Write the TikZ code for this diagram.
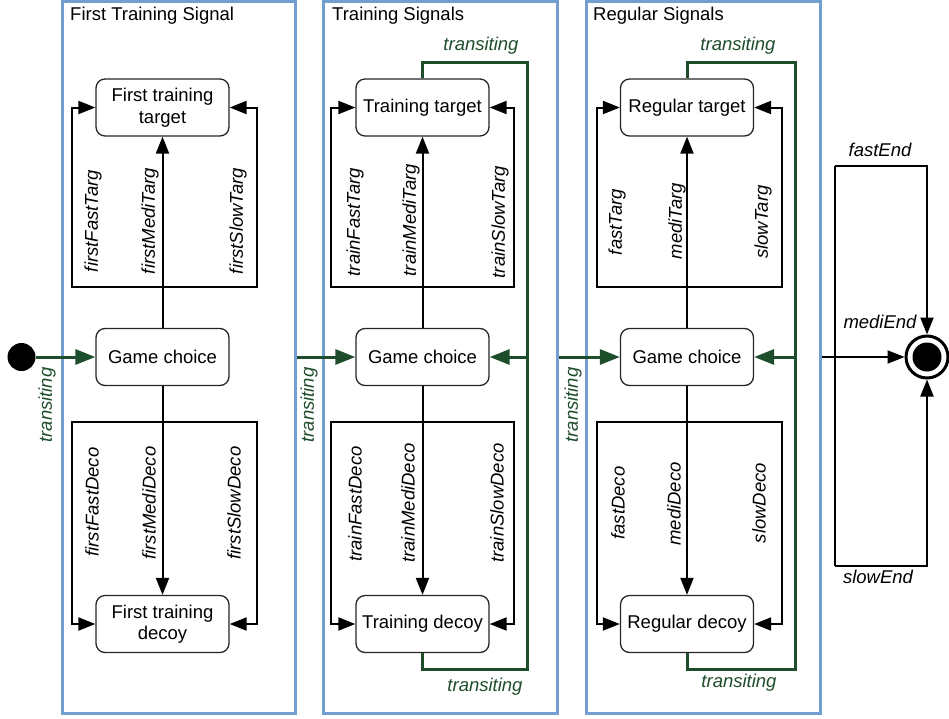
\documentclass[tikz,border=0pt]{standalone}
\usepackage{fontspec}
\setmainfont{Liberation Sans}
\usetikzlibrary{arrows.meta}
\definecolor{cblue}{HTML}{729FCF}
\definecolor{cgreen}{HTML}{1E4D2B}
\begin{document}
\begin{tikzpicture}[x=1pt,y=-1pt,
  state/.style={draw=black!85, line width=1.3pt, rounded corners=9pt, minimum width=133pt, minimum height=57pt, align=center, inner sep=2pt, fill=white, font=\fontsize{18.5}{21.5}\selectfont},
  cont/.style={draw=cblue, line width=3pt, minimum height=712pt, inner sep=0pt},
  ttl/.style={anchor=west, inner sep=0pt, font=\fontsize{18.5}{21.5}\selectfont},
  conn/.style={draw=black, line width=2pt},
  arr/.style={conn, -{Triangle[length=17pt,width=13pt]}},
  gconn/.style={draw=cgreen, line width=3pt},
  garr/.style={gconn, -{Triangle[length=20pt,width=15pt]}},
  lab/.style={rotate=90, inner sep=0pt, font=\fontsize{18.5}{21.5}\selectfont\itshape},
  glab/.style={inner sep=0pt, text=cgreen, font=\fontsize{18.5}{21.5}\selectfont\itshape},
  hlab/.style={inner sep=0pt, font=\fontsize{18.5}{21.5}\selectfont\itshape},
]
\useasboundingbox (0,0) rectangle (949,718);

% containers
\node[cont, minimum width=233pt] (box1) at (178.5,357) {};
\node[cont, minimum width=234pt] (box2) at (440,357) {};
\node[cont, minimum width=234pt] (box3) at (703,357) {};
\node[ttl] (t1) at (70,16) {First Training Signal};
\node[ttl] (t2) at (332,16) {Training Signals};
\node[ttl] (t3) at (593,16) {Regular Signals};

% states
\node[state] (tgt1) at (162.5,107.5) {First training\\target};
\node[state] (gc1)  at (162.5,357) {Game choice};
\node[state] (dec1) at (162.5,624) {First training\\decoy};
\node[state] (tgt2) at (422.5,107.5) {Training target};
\node[state] (gc2)  at (422.5,357) {Game choice};
\node[state] (dec2) at (422.5,624) {Training decoy};
\node[state] (tgt3) at (687,107.5) {Regular target};
\node[state] (gc3)  at (687,357) {Game choice};
\node[state] (dec3) at (687,624) {Regular decoy};

% start and final
\node[circle, fill=black, minimum size=28pt, inner sep=0pt] (start) at (21.5,357) {};
\node[circle, draw=black, line width=3pt, fill=white, minimum size=42pt, inner sep=0pt] (final) at (927,357) {};
\fill[black] (final.center) circle [radius=14.5pt];

% column 1
\coordinate (jt1) at (162.5,287); \coordinate (tl1) at (72,287); \coordinate (tr1) at (257,287);
\coordinate (jd1) at (162.5,422); \coordinate (dl1) at (72,422); \coordinate (dr1) at (257,422);
\draw[arr] (gc1.north) -- (tgt1.south);
\draw[arr] (jt1) -- (tl1) |- (tgt1.west);
\draw[arr] (jt1) -- (tr1) |- (tgt1.east);
\draw[arr] (gc1.south) -- (dec1.north);
\draw[arr] (jd1) -- (dl1) |- (dec1.west);
\draw[arr] (jd1) -- (dr1) |- (dec1.east);

% column 2
\coordinate (jt2) at (422.5,287); \coordinate (tl2) at (331,287); \coordinate (tr2) at (514,287);
\coordinate (jd2) at (422.5,422); \coordinate (dl2) at (331,422); \coordinate (dr2) at (514,422);
\draw[arr] (gc2.north) -- (tgt2.south);
\draw[arr] (jt2) -- (tl2) |- (tgt2.west);
\draw[arr] (jt2) -- (tr2) |- (tgt2.east);
\draw[arr] (gc2.south) -- (dec2.north);
\draw[arr] (jd2) -- (dl2) |- (dec2.west);
\draw[arr] (jd2) -- (dr2) |- (dec2.east);

% column 3
\coordinate (jt3) at (687,287); \coordinate (tl3) at (597,287); \coordinate (tr3) at (782,287);
\coordinate (jd3) at (687,422); \coordinate (dl3) at (597,422); \coordinate (dr3) at (782,422);
\draw[arr] (gc3.north) -- (tgt3.south);
\draw[arr] (jt3) -- (tl3) |- (tgt3.west);
\draw[arr] (jt3) -- (tr3) |- (tgt3.east);
\draw[arr] (gc3.south) -- (dec3.north);
\draw[arr] (jd3) -- (dl3) |- (dec3.west);
\draw[arr] (jd3) -- (dr3) |- (dec3.east);

% green loops
\coordinate (lp2t) at (527,62); \coordinate (lp2m) at (527,357); \coordinate (lp2b) at (527,669);
\draw[garr] (tgt2.north) |- (lp2t) -- (lp2m) -- (gc2.east);
\draw[gconn] (dec2.south) |- (lp2b) -- (lp2m);
\coordinate (lp3t) at (795,62); \coordinate (lp3m) at (795,357); \coordinate (lp3b) at (795,669);
\draw[garr] (tgt3.north) |- (lp3t) -- (lp3m) -- (gc3.east);
\draw[gconn] (dec3.south) |- (lp3b) -- (lp3m);

% transitions between blocks
\draw[garr] (start.east) -- (gc1.west);
\draw[garr] (box1.east) -- (gc2.west);
\draw[garr] (box2.east) -- (gc3.west);
\draw[arr] (box3.east) -- (final.west);

% end connectors
\coordinate (eTL) at (835,166); \coordinate (eBL) at (835,566);
\draw[conn] (eTL) -- (eBL);
\draw[arr] (eTL) -| (final.north);
\draw[arr] (eBL) -| (final.south);

% labels
\node[lab] (l1a) at (93,221) {firstFastTarg};
\node[lab] (l1b) at (150,221) {firstMediTarg};
\node[lab] (l1c) at (238,221) {firstSlowTarg};
\node[lab] (l1d) at (92,502) {firstFastDeco};
\node[lab] (l1e) at (149,503) {firstMediDeco};
\node[lab] (l1f) at (234,503) {firstSlowDeco};
\node[lab] (l2a) at (355,222) {trainFastTarg};
\node[lab] (l2b) at (411,220) {trainMediTarg};
\node[lab] (l2c) at (500,222) {trainSlowTarg};
\node[lab] (l2d) at (355,504) {trainFastDeco};
\node[lab] (l2e) at (408,503) {trainMediDeco};
\node[lab] (l2f) at (497,503) {trainSlowDeco};
\node[lab] (l3a) at (617,222) {fastTarg};
\node[lab] (l3b) at (677,221) {mediTarg};
\node[lab] (l3c) at (763,222) {slowTarg};
\node[lab] (l3d) at (618,503) {fastDeco};
\node[lab] (l3e) at (674,504) {mediDeco};
\node[lab] (l3f) at (759,503) {slowDeco};

\node[glab, rotate=90] (g1) at (47,405) {transiting};
\node[glab, rotate=90] (g2) at (309,405) {transiting};
\node[glab, rotate=90] (g3) at (573,405) {transiting};
\node[glab] (g4) at (481,46) {transiting};
\node[glab] (g5) at (485,687) {transiting};
\node[glab] (g6) at (738,46) {transiting};
\node[glab] (g7) at (739,683) {transiting};

\node[hlab] (e1) at (880,150) {fastEnd};
\node[hlab] (e2) at (880,322) {mediEnd};
\node[hlab] (e3) at (878,577) {slowEnd};
\end{tikzpicture}
\end{document}
